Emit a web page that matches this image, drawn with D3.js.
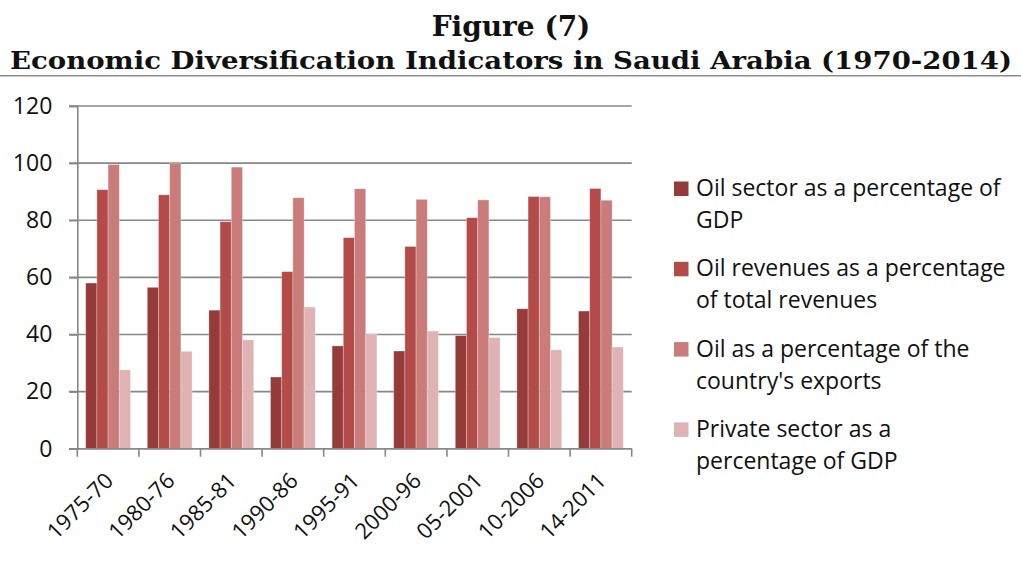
<!DOCTYPE html>
<html>
<head>
<meta charset="utf-8">
<script src="https://cdn.jsdelivr.net/npm/d3@7"></script>
<style>
  body { margin: 0; background: #fff; }
  svg { display: block; }
</style>
</head>
<body>
<div id="chart"></div>
<script>
// data
const periods = ["1975-70", "1980-76", "1985-81", "1990-86", "1995-91", "2000-96", "05-2001", "10-2006", "14-2011"];
const seriesNames = [
  "Oil sector as a percentage of GDP",
  "Oil revenues as a percentage of total revenues",
  "Oil as a percentage of the country's exports",
  "Private sector as a percentage of GDP"
];
const legendLines = [
  ["Oil sector as a percentage of", "GDP"],
  ["Oil revenues as a percentage", "of total revenues"],
  ["Oil as a percentage of the", "country's exports"],
  ["Private sector as a", "percentage of GDP"]
];
const oilSectorGdp = [58.0, 56.5, 48.5, 25.1, 36.0, 34.2, 39.6, 49.0, 48.2];
const oilRevenues = [90.7, 88.9, 79.5, 62.0, 73.9, 70.8, 80.9, 88.3, 91.1];
const oilExports = [99.5, 100.0, 98.6, 87.9, 91.0, 87.3, 87.1, 88.2, 87.0];
const privateSector = [27.6, 34.1, 38.1, 49.6, 40.1, 41.2, 38.9, 34.6, 35.6];
const yTicks = [0, 20, 40, 60, 80, 100, 120];

const allSeries = [oilSectorGdp, oilRevenues, oilExports, privateSector];
const colors = ["#953b3a", "#b34b49", "#ca7c7b", "#dfb3b3"];

const width = 1021;
const height = 569;

const svg = d3.select("#chart").append("svg")
    .attr("width", width)
    .attr("height", height);

// ---- title ----
svg.append("text")
    .attr("x", 511).attr("y", 36)
    .attr("text-anchor", "middle")
    .style("font-family", "'DejaVu Serif', serif")
    .style("font-weight", "bold")
    .style("font-size", "28px")
    .attr("fill", "#111")
    .text("Figure (7)");

svg.append("text")
    .attr("x", 10).attr("y", 69)
    .attr("textLength", 1002)
    .attr("lengthAdjust", "spacingAndGlyphs")
    .style("font-family", "'DejaVu Serif', serif")
    .style("font-weight", "bold")
    .style("font-size", "25px")
    .attr("fill", "#111")
    .text("Economic Diversification Indicators in Saudi Arabia (1970-2014)");

svg.append("line")
    .attr("x1", 0).attr("x2", width)
    .attr("y1", 75.7).attr("y2", 75.7)
    .attr("stroke", "#8c8c8c")
    .attr("stroke-width", 1.5);

// ---- scales ----
const x0 = d3.scaleBand()
    .domain(periods)
    .range([77.3, 631.7]);

const x1 = d3.scaleBand()
    .domain(d3.range(allSeries.length))
    .range([8.4, x0.bandwidth() - 8.4]);

const y = d3.scaleLinear()
    .domain([0, 120])
    .range([448.7, 106]);

const labelFont = "'Open Sans', 'Noto Sans', sans-serif";

// gridlines
svg.append("g")
    .selectAll("line")
    .data(yTicks)
    .join("line")
    .attr("x1", 69).attr("x2", 631.7)
    .attr("y1", d => y(d)).attr("y2", d => y(d))
    .attr("stroke", "#878787")
    .attr("stroke-width", 1.6);

// y axis
const yAxis = svg.append("g")
    .attr("transform", "translate(77.3,0)")
    .call(d3.axisLeft(y).tickValues(yTicks).tickSize(8).tickPadding(17));
yAxis.select(".domain").attr("stroke", "#878787").attr("stroke-width", 1.6);
yAxis.selectAll(".tick line").attr("stroke", "#878787").attr("stroke-width", 1.6);
yAxis.selectAll("text")
    .style("font-family", labelFont)
    .style("font-size", "23px")
    .attr("fill", "#111");

// bars
const groups = svg.append("g")
    .selectAll("g")
    .data(periods)
    .join("g")
    .attr("transform", d => `translate(${x0(d)},0)`);

groups.selectAll("rect")
    .data((d, i) => allSeries.map((s, k) => ({ k, v: s[i] })))
    .join("rect")
    .attr("x", d => x1(d.k))
    .attr("width", x1.bandwidth())
    .attr("y", d => y(d.v))
    .attr("height", d => y(0) - y(d.v))
    .attr("fill", d => colors[d.k])
    .attr("stroke", "rgba(255,255,255,0.35)")
    .attr("stroke-width", 0.8);

// x axis
const xAxis = svg.append("g")
    .attr("transform", `translate(0,${y(0)})`);
xAxis.append("line")
    .attr("x1", 69).attr("x2", 631.7)
    .attr("stroke", "#878787")
    .attr("stroke-width", 1.6);
const edges = periods.map(p => x0(p)).concat([x0.range()[1]]);
xAxis.selectAll(".edge")
    .data(edges)
    .join("line")
    .attr("class", "edge")
    .attr("x1", d => d).attr("x2", d => d)
    .attr("y1", 0).attr("y2", 8)
    .attr("stroke", "#878787")
    .attr("stroke-width", 1.6);

xAxis.selectAll(".lbl")
    .data(periods)
    .join("text")
    .attr("class", "lbl")
    .attr("text-anchor", "end")
    .attr("transform", d => `translate(${x0(d) + x0.bandwidth() / 2 + 1},${28}) rotate(-45)`)
    .attr("dy", "0.35em")
    .style("font-family", labelFont)
    .style("font-size", "22px")
    .attr("fill", "#111")
    .text(d => d);

// ---- legend ----
const legend = svg.append("g")
    .attr("transform", "translate(674,0)");

const items = legend.selectAll("g")
    .data(seriesNames)
    .join("g")
    .attr("transform", (d, i) => `translate(0,${196 + i * 80.3})`);

items.append("rect")
    .attr("x", 0).attr("y", -14.5)
    .attr("width", 14.5).attr("height", 14.5)
    .attr("fill", (d, i) => colors[i]);

items.append("text")
    .style("font-family", labelFont)
    .style("font-size", "23px")
    .attr("fill", "#111")
    .selectAll("tspan")
    .data((d, i) => legendLines[i])
    .join("tspan")
    .attr("x", 22)
    .attr("dy", (d, j) => j === 0 ? 0 : 32)
    .text(d => d);
</script>
</body>
</html>
